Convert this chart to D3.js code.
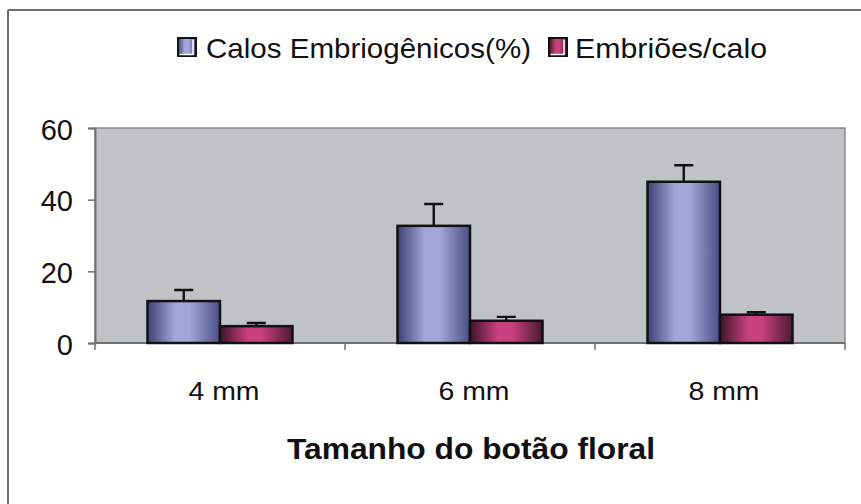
<!DOCTYPE html>
<html>
<head>
<meta charset="utf-8">
<script src="https://cdn.jsdelivr.net/npm/d3@7"></script>
<style>
  body { margin: 0; background: #fff; }
  svg { display: block; font-family: "Liberation Sans", Arial, sans-serif; }
</style>
</head>
<body>
<svg id="chart" width="861" height="504"></svg>
<script>
// data
const categories = ["4 mm", "6 mm", "8 mm"];
const seriesNames = ["Calos Embriogênicos(%)", "Embriões/calo"];
const calos = [11.7, 32.7, 45.0];
const calosErr = [3.1, 6.1, 4.6];
const embrioes = [4.7, 6.2, 7.9];
const embrioesErr = [0.9, 1.1, 0.7];
const yTicks = [0, 20, 40, 60];

const svg = d3.select('#chart');
const W = 861, H = 504;
const plot = { left: 95, right: 845, top: 128, bottom: 343 };

// gradients (cylinder-ish shading like the excel bars)
const defs = svg.append('defs');
function grad(id, dark, light, darkR) {
  const g = defs.append('linearGradient').attr('id', id)
    .attr('x1', '0%').attr('x2', '100%').attr('y1', '0%').attr('y2', '0%');
  g.append('stop').attr('offset', '0%').attr('stop-color', dark);
  g.append('stop').attr('offset', '38%').attr('stop-color', light);
  g.append('stop').attr('offset', '58%').attr('stop-color', light);
  g.append('stop').attr('offset', '100%').attr('stop-color', darkR);
}
grad('gBlue', '#3e4175', '#a2a6d8', '#4b4e86');
grad('gPink', '#3d1428', '#c8407e', '#4a1a30');
const fills = ['url(#gBlue)', 'url(#gPink)'];

// frame (only top & left visible)
svg.append('line').attr('x1', 8).attr('x2', W).attr('y1', 10).attr('y2', 10)
  .attr('stroke', '#6e6e6e').attr('stroke-width', 2);
svg.append('line').attr('x1', 8).attr('x2', 8).attr('y1', 10).attr('y2', H)
  .attr('stroke', '#6e6e6e').attr('stroke-width', 2);

const x = d3.scaleBand().domain(categories).range([plot.left, plot.right]).padding(0);
const xs = d3.scaleBand().domain(seriesNames).range([0, x.bandwidth()])
  .paddingInner(0).paddingOuter(0.724);
const y = d3.scaleLinear().domain([0, 60]).range([plot.bottom, plot.top]);

// plot area
svg.append('rect')
  .attr('x', plot.left).attr('y', plot.top)
  .attr('width', plot.right - plot.left).attr('height', plot.bottom - plot.top)
  .attr('fill', '#c0c3c6').attr('stroke', '#8a8c8e').attr('stroke-width', 1.5);

// y axis
const yAxis = svg.append('g').attr('transform', `translate(${plot.left},0)`)
  .call(d3.axisLeft(y).tickValues(yTicks).tickSize(7).tickPadding(15).tickFormat(d3.format('d')));
yAxis.select('.domain').attr('stroke', '#707070').attr('stroke-width', 2);
yAxis.selectAll('.tick line').attr('stroke', '#707070').attr('stroke-width', 1.5);
yAxis.selectAll('.tick text').attr('font-size', 29).attr('fill', '#111')
  .attr('dy', '0.38em')
  .attr('font-family', '"Liberation Sans", Arial, sans-serif');

// x axis: ticks at category boundaries
const xAxis = svg.append('g').attr('transform', `translate(0,${plot.bottom})`);
xAxis.append('line').attr('x1', plot.left).attr('x2', plot.right)
  .attr('stroke', '#707070').attr('stroke-width', 2);
const bounds = categories.map(c => x(c)).concat([x(categories[categories.length - 1]) + x.bandwidth()]);
xAxis.selectAll('.bt').data(bounds).enter().append('line')
  .attr('x1', d => d).attr('x2', d => d).attr('y1', 0).attr('y2', 7)
  .attr('stroke', '#707070').attr('stroke-width', 1.5);
xAxis.selectAll('.lab').data(categories).enter().append('text')
  .attr('x', d => x(d) + x.bandwidth() / 2 + 4)
  .attr('y', 57)
  .attr('text-anchor', 'middle')
  .attr('font-size', 26)
  .attr('fill', '#111')
  .attr('textLength', 71).attr('lengthAdjust', 'spacingAndGlyphs')
  .text(d => d);

// bars
const rows = categories.map((c, i) => ({
  cat: c,
  vals: [
    { s: seriesNames[0], v: calos[i], e: calosErr[i], k: 0 },
    { s: seriesNames[1], v: embrioes[i], e: embrioesErr[i], k: 1 }
  ]
}));

const grp = svg.selectAll('.grp').data(rows).enter().append('g')
  .attr('transform', d => `translate(${x(d.cat)},0)`);

// error bars (upper only)
grp.selectAll('.err').data(d => d.vals).enter().append('path')
  .attr('d', d => {
    const cx = xs(d.s) + xs.bandwidth() / 2;
    return `M${cx},${y(d.v)}V${y(d.v + d.e)}M${cx - 9.5},${y(d.v + d.e)}H${cx + 9.5}`;
  })
  .attr('stroke', '#111').attr('stroke-width', 2.4).attr('fill', 'none');

grp.selectAll('.bar').data(d => d.vals).enter().append('rect')
  .attr('x', d => xs(d.s))
  .attr('y', d => y(d.v))
  .attr('width', xs.bandwidth())
  .attr('height', d => y(0) - y(d.v))
  .attr('fill', d => fills[d.k])
  .attr('stroke', '#111').attr('stroke-width', 2.5);

// legend
const legend = svg.append('g');
const legItems = [
  { name: seriesNames[0], fill: fills[0], sx: 178, tx: 206, len: 325 },
  { name: seriesNames[1], fill: fills[1], sx: 549, tx: 575, len: 192 }
];
legItems.forEach(it => {
  legend.append('rect').attr('x', it.sx).attr('y', 38).attr('width', 18).attr('height', 18)
    .attr('fill', it.fill).attr('stroke', '#111').attr('stroke-width', 2);
  legend.append('path')
    .attr('d', `M${it.sx + 15},${39.5}V${54.5}H${it.sx + 1.5}`)
    .attr('stroke', '#fff').attr('stroke-width', 1.5).attr('fill', 'none');
  legend.append('text').attr('x', it.tx).attr('y', 58)
    .attr('font-size', 28).attr('fill', '#111')
    .attr('textLength', it.len).attr('lengthAdjust', 'spacingAndGlyphs')
    .text(it.name);
});

// axis title
svg.append('text')
  .attr('x', 471).attr('y', 459)
  .attr('text-anchor', 'middle')
  .attr('font-size', 30).attr('font-weight', 'bold').attr('fill', '#111')
  .attr('textLength', 368).attr('lengthAdjust', 'spacingAndGlyphs')
  .text('Tamanho do botão floral');
</script>
</body>
</html>
